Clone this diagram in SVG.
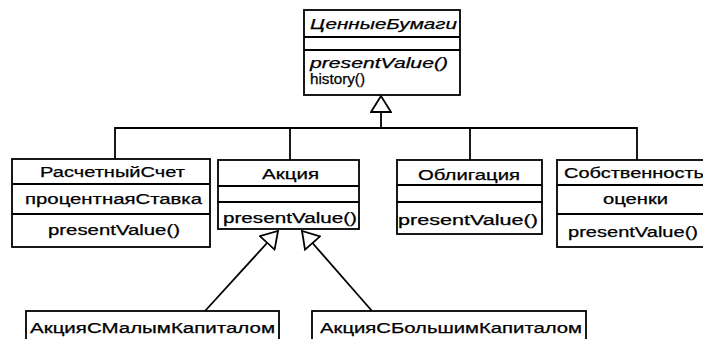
<svg xmlns="http://www.w3.org/2000/svg" width="703" height="339" viewBox="0 0 703 339">
<style>
.box{fill:#fff;stroke:#000;stroke-width:1.8}
.sep{stroke:#000;stroke-width:1.8}
.t{font-family:"Liberation Sans",Arial,sans-serif;font-size:14px;fill:#000;stroke:#000;stroke-width:0.25}
.i{font-style:italic}
.c{fill:none;stroke:#000;stroke-width:1.8}
</style>
<defs>
<marker id="gen" viewBox="0 0 18 22" refX="17" refY="11" markerWidth="18" markerHeight="22" markerUnits="userSpaceOnUse" orient="auto">
<path d="M1,1 L17,11 L1,21 Z" fill="#fff" stroke="#000" stroke-width="1.8"/>
</marker>
</defs>
<rect width="703" height="339" fill="#fff"/>
<g id="connectors">
<path class="c" d="M115,159 V128 H637 V160"/>
<path class="c" d="M290,128 V160"/>
<path class="c" d="M470,128 V160"/>
<path class="c" d="M381,128 V96" marker-end="url(#gen)"/>
<path class="c" d="M205,311 L278,231" marker-end="url(#gen)"/>
<path class="c" d="M372,311 L302,231" marker-end="url(#gen)"/>
</g>
<g id="ЦенныеБумаги">
<rect class="box" x="304" y="10" width="156" height="85"/>
<line class="sep" x1="304" y1="37" x2="460" y2="37"/>
<line class="sep" x1="304" y1="50" x2="460" y2="50"/>
<text class="t i" x="310" y="29" textLength="147" lengthAdjust="spacingAndGlyphs">ЦенныеБумаги</text>
<text class="t i" x="310" y="68" textLength="138" lengthAdjust="spacingAndGlyphs">presentValue()</text>
<text class="t" x="310" y="84" textLength="55" lengthAdjust="spacingAndGlyphs">history()</text>
</g>
<g id="РасчетныйСчет">
<rect class="box" x="12" y="159" width="198" height="88"/>
<line class="sep" x1="12" y1="184" x2="210" y2="184"/>
<line class="sep" x1="12" y1="214" x2="210" y2="214"/>
<text class="t" x="40" y="177" textLength="145" lengthAdjust="spacingAndGlyphs">РасчетныйСчет</text>
<text class="t" x="25" y="204" textLength="177" lengthAdjust="spacingAndGlyphs">процентнаяСтавка</text>
<text class="t" x="48" y="235" textLength="132" lengthAdjust="spacingAndGlyphs">presentValue()</text>
</g>
<g id="Акция">
<rect class="box" x="218" y="160" width="141" height="69"/>
<line class="sep" x1="218" y1="186" x2="359" y2="186"/>
<line class="sep" x1="218" y1="202" x2="359" y2="202"/>
<text class="t" x="262" y="179" textLength="57" lengthAdjust="spacingAndGlyphs">Акция</text>
<text class="t" x="223" y="223" textLength="134" lengthAdjust="spacingAndGlyphs">presentValue()</text>
</g>
<g id="Облигация">
<rect class="box" x="397" y="160" width="145" height="74"/>
<line class="sep" x1="397" y1="185" x2="542" y2="185"/>
<line class="sep" x1="397" y1="202" x2="542" y2="202"/>
<text class="t" x="418" y="180" textLength="102" lengthAdjust="spacingAndGlyphs">Облигация</text>
<text class="t" x="398" y="225" textLength="140" lengthAdjust="spacingAndGlyphs">presentValue()</text>
</g>
<g id="Собственность">
<rect class="box" x="557" y="160" width="160" height="87"/>
<line class="sep" x1="557" y1="185" x2="717" y2="185"/>
<line class="sep" x1="557" y1="214" x2="717" y2="214"/>
<text class="t" x="564" y="178" textLength="140" lengthAdjust="spacingAndGlyphs">Собственность</text>
<text class="t" x="603" y="204" textLength="65" lengthAdjust="spacingAndGlyphs">оценки</text>
<text class="t" x="568" y="237" textLength="130" lengthAdjust="spacingAndGlyphs">presentValue()</text>
</g>
<g id="АкцияСМалымКапиталом">
<rect class="box" x="26" y="311" width="253" height="40"/>
<text class="t" x="30" y="333" textLength="245" lengthAdjust="spacingAndGlyphs">АкцияСМалымКапиталом</text>
</g>
<g id="АкцияСБольшимКапиталом">
<rect class="box" x="312" y="311" width="274" height="40"/>
<text class="t" x="320" y="333" textLength="262" lengthAdjust="spacingAndGlyphs">АкцияСБольшимКапиталом</text>
</g>
</svg>
